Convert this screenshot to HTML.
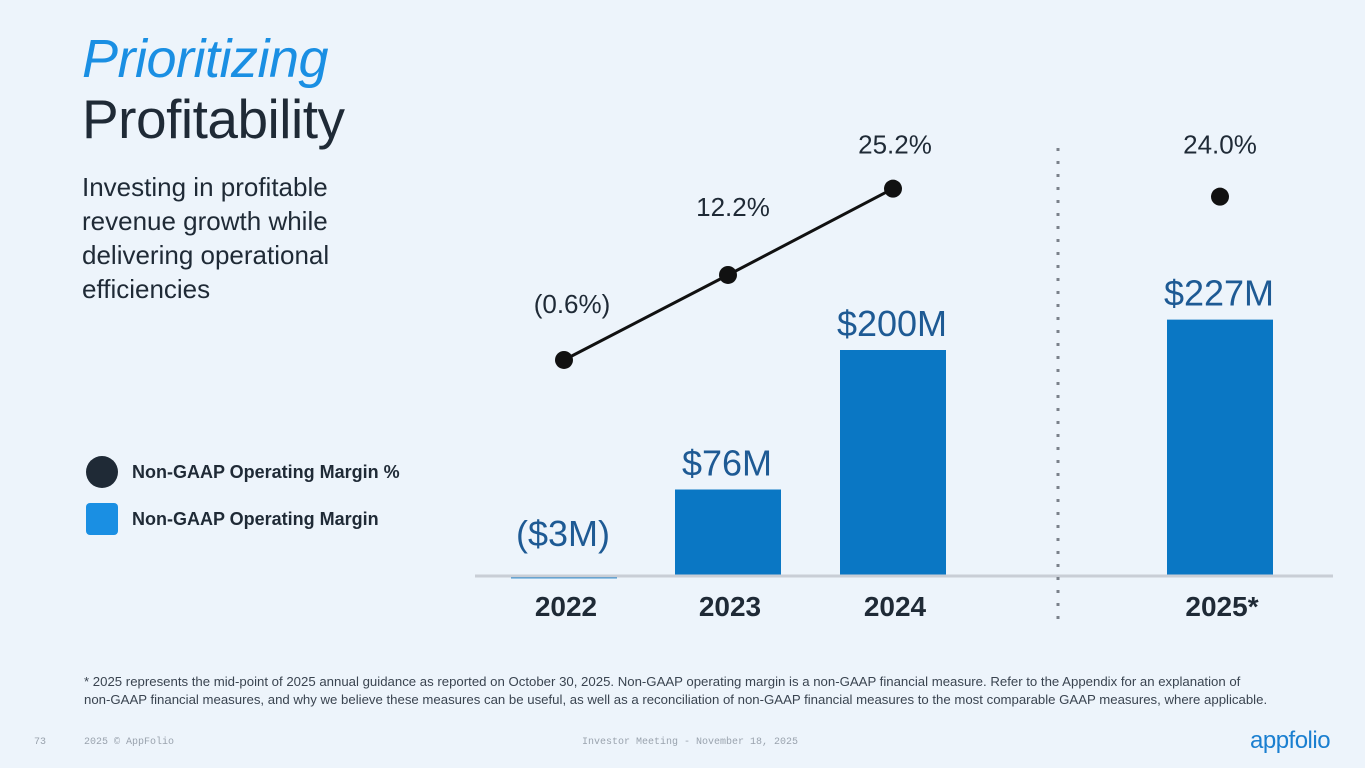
<!DOCTYPE html>
<html><head><meta charset="utf-8">
<style>
body{margin:0;width:1365px;height:768px;background:#EDF4FB;font-family:"Liberation Sans",sans-serif;overflow:hidden;position:relative}
.abs{position:absolute}
</style></head><body>
<div class="abs" style="left:82px;top:28px;font-size:54px;font-style:italic;color:#1A8FE3;letter-spacing:-0.5px">Prioritizing</div>
<div class="abs" style="left:82px;top:87px;font-size:55px;color:#1F2A36;letter-spacing:-0.5px">Profitability</div>
<div class="abs" style="left:82px;top:170px;font-size:26px;line-height:34px;color:#1F2A36">Investing in profitable<br>revenue growth while<br>delivering operational<br>efficiencies</div>
<div class="abs" style="left:86px;top:456px;display:flex;align-items:center">
<div style="width:32px;height:32px;border-radius:50%;background:#1F2A36"></div>
<span style="margin-left:14px;font-size:18px;font-weight:bold;color:#1F2A36">Non-GAAP Operating Margin %</span></div>
<div class="abs" style="left:86px;top:503px;display:flex;align-items:center">
<div style="width:32px;height:32px;border-radius:4px;background:#1A8FE3"></div>
<span style="margin-left:14px;font-size:18px;font-weight:bold;color:#1F2A36">Non-GAAP Operating Margin</span></div>
<svg class="abs" style="left:0;top:0" width="1365" height="768" id="chart"></svg>
<div class="abs" style="left:84px;top:673px;width:1240px;font-size:13.2px;line-height:18px;color:#3A4450">* 2025 represents the mid-point of 2025 annual guidance as reported on October 30, 2025. Non-GAAP operating margin is a non-GAAP financial measure. Refer to the Appendix for an explanation of<br>non-GAAP financial measures, and why we believe these measures can be useful, as well as a reconciliation of non-GAAP financial measures to the most comparable GAAP measures, where applicable.</div>
<div class="abs" style="left:34px;top:737px;font-family:'Liberation Mono',monospace;font-size:10px;color:#9AA3AE">73</div>
<div class="abs" style="left:84px;top:737px;font-family:'Liberation Mono',monospace;font-size:10px;color:#9AA3AE">2025 © AppFolio</div>
<div class="abs" style="left:582px;top:737px;font-family:'Liberation Mono',monospace;font-size:10px;color:#9AA3AE">Investor Meeting - November 18, 2025</div>
<div class="abs" style="left:1250px;top:727px;font-size:24px;color:#1A7FD0;letter-spacing:-0.5px">appfolio</div>
<script>
const years=["2022","2023","2024","2025*"];
const opMargin=[-3,76,200,227];
const marginLabels=["($3M)","$76M","$200M","$227M"];
const marginPct=[-0.6,12.2,25.2,24.0];
const pctLabels=["(0.6%)","12.2%","25.2%","24.0%"];
const NS="http://www.w3.org/2000/svg";
const svg=document.getElementById('chart');
const cx=[564,728,893,1220];
const base=575;
const yb=v=>base-v*1.125;
const yp=v=>356-v*6.64;
function mk(t,a){const e=document.createElementNS(NS,t);for(const k in a)e.setAttribute(k,a[k]);svg.appendChild(e);return e;}
for(let i=0;i<years.length;i++){
  const y0=yb(Math.max(0,opMargin[i])),y1=yb(Math.min(0,opMargin[i]));
  const r=mk('rect',{x:cx[i]-53,y:y0,width:106,height:Math.max(y1-y0,1),fill:'#0A77C4'});
  
  
  const t=mk('text',{x:cx[i]-1,y:y0-14-(opMargin[i]<0?15:0),'text-anchor':'middle','font-size':36,fill:'#1E5A94','font-family':'Liberation Sans'});
  t.textContent=marginLabels[i];
  
  
  const yl=mk('text',{x:cx[i]+2,y:616,'text-anchor':'middle','font-size':28,'font-weight':'bold',fill:'#1F2A36','font-family':'Liberation Sans'});
  yl.textContent=years[i];
  
  
}
const ax=mk('line',{x1:475,x2:1333,y1:576,y2:576,stroke:'#C9CED6','stroke-width':3});


const dv=mk('line',{x1:1058,x2:1058,y1:148,y2:622,stroke:'#7A818A','stroke-width':3,'stroke-dasharray':'3 10'});


const pl=mk('polyline',{points:[0,1,2].map(i=>cx[i]+','+yp(marginPct[i])).join(' '),fill:'none',stroke:'#111','stroke-width':3});


const lo=[[8,-57],[5,-69],[2,-45],[0,-53]];
for(let i=0;i<years.length;i++){
  const c=mk('circle',{cx:cx[i],cy:yp(marginPct[i]),r:9,fill:'#111'});
  
  
  const t=mk('text',{x:cx[i]+lo[i][0],y:yp(marginPct[i])+lo[i][1]+10,'text-anchor':'middle','font-size':26,fill:'#1F2A36','font-family':'Liberation Sans'});
  t.textContent=pctLabels[i];
  
  
}
</script>
</body></html>
